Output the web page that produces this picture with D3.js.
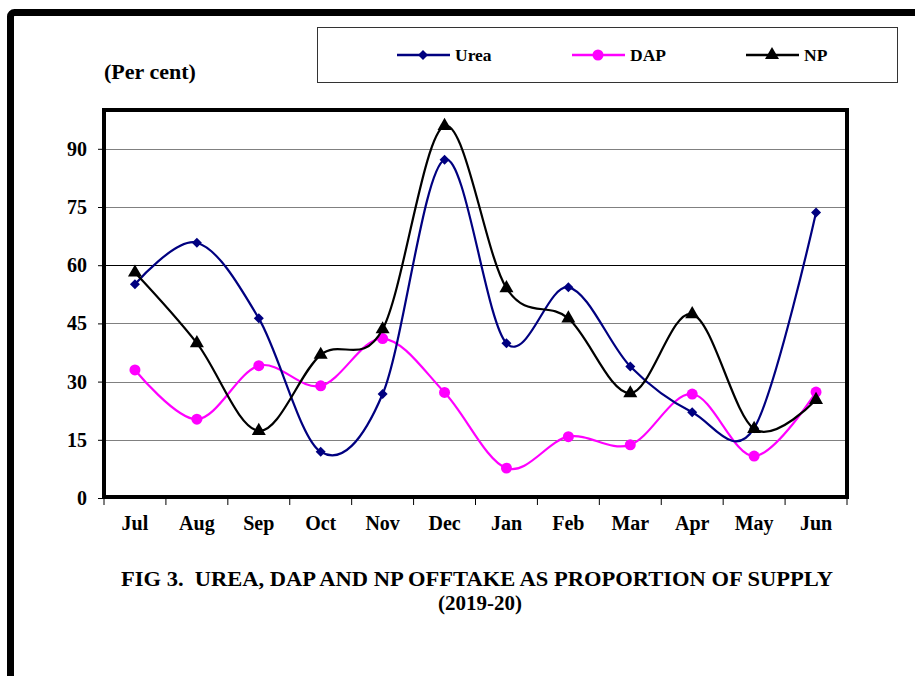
<!DOCTYPE html>
<html><head><meta charset="utf-8">
<script src="https://cdn.jsdelivr.net/npm/d3@7"></script>
<style>
body{margin:0;background:#fff;}
svg text{font-family:"Liberation Serif","Times New Roman","DejaVu Serif",serif !important;font-weight:bold;fill:#000;}
</style></head>
<body><svg id="c" width="915" height="676"></svg>
<script>
const months = ["Jul","Aug","Sep","Oct","Nov","Dec","Jan","Feb","Mar","Apr","May","Jun"];
const urea = [55.1,65.8,46.3,11.9,26.8,87.2,39.9,54.3,33.9,22.1,18.0,73.6];
const dap  = [33.0,20.3,34.1,28.9,41.1,27.2,7.7,15.8,13.7,26.8,10.8,27.3];
const np   = [58.1,39.9,17.3,36.9,43.5,95.9,54.1,46.3,27.0,47.4,17.8,25.3];
const yTicks = [0,15,30,45,60,75,90];
const seriesNames = ["Urea","DAP","NP"];
const FONT = "'Liberation Serif','Times New Roman','DejaVu Serif',serif";

const svg = d3.select("#c");
// outer frame
svg.append("rect").attr("x",10.5).attr("y",12.5).attr("width",960).attr("height",720)
  .attr("rx",4).attr("fill","none").attr("stroke","#000").attr("stroke-width",7);

const L=104,R=847,T=110,B=498;
const x = d3.scaleBand().domain(months).range([L,R]);
const y = d3.scaleLinear().domain([0,100]).range([B,T]);

// gridlines
svg.append("g").selectAll("line").data(yTicks.filter(d=>d>0)).join("line")
  .attr("x1",L).attr("x2",R).attr("y1",d=>Math.round(y(d))+0.5).attr("y2",d=>Math.round(y(d))+0.5)
  .attr("stroke",d=>d===60?"#000":"#808080").attr("stroke-width",1);

// y axis
const ya = svg.append("g").attr("transform",`translate(${L},0)`)
  .call(d3.axisLeft(y).tickValues(yTicks).tickSize(6).tickPadding(11));
ya.attr("font-family",FONT);
ya.select(".domain").remove();
ya.selectAll("text").attr("font-family",FONT).style("font-size","20px").style("font-weight","bold");
ya.selectAll("line").attr("stroke","#000");

// x axis ticks at band boundaries
const bounds = months.map(m=>x(m)).concat([R]);
svg.append("g").selectAll("line").data(bounds).join("line")
  .attr("x1",d=>d).attr("x2",d=>d).attr("y1",B).attr("y2",B+7).attr("stroke","#000");
svg.append("g").selectAll("text").data(months).join("text")
  .attr("x",d=>x(d)+x.bandwidth()/2).attr("y",530).attr("text-anchor","middle")
  .attr("font-family",FONT).style("font-size","20px").text(d=>d);

// plot frame
svg.append("rect").attr("x",L).attr("y",T).attr("width",R-L).attr("height",B-T-1)
  .attr("fill","none").attr("stroke","#000").attr("stroke-width",4);

const line = d3.line().x((d,i)=>x(months[i])+x.bandwidth()/2).y(d=>y(d)).curve(d3.curveCardinal.tension(0));
const cfg = [
  {data:urea,color:"#000080",shape:d3.symbolSquare,size:50,rot:45},
  {data:dap,color:"#FF00FF",shape:d3.symbolCircle,size:95,rot:0},
  {data:np,color:"#000000",shape:d3.symbolTriangle,size:85,rot:0}
];
// draw order: DAP, Urea, NP
[1,0,2].forEach(k=>{
  const c=cfg[k];
  svg.append("path").datum(c.data).attr("d",line).attr("fill","none").attr("stroke",c.color).attr("stroke-width",2.2);
  svg.append("g").selectAll("path").data(c.data).join("path")
    .attr("d",d3.symbol().type(c.shape).size(c.size))
    .attr("transform",(d,i)=>`translate(${x(months[i])+x.bandwidth()/2},${y(d)}) rotate(${c.rot})`)
    .attr("fill",c.color);
});

// legend
svg.append("rect").attr("x",317.5).attr("y",27.5).attr("width",580).attr("height",55)
  .attr("fill","#fff").attr("stroke","#333").attr("stroke-width",1);
const lx=[397,572,746];
cfg.forEach((c,i)=>{
  svg.append("line").attr("x1",lx[i]).attr("x2",lx[i]+53).attr("y1",55).attr("y2",55).attr("stroke",c.color).attr("stroke-width",2.5);
  svg.append("path").attr("d",d3.symbol().type(c.shape).size(c.size)).attr("transform",`translate(${lx[i]+26},55) rotate(${c.rot})`).attr("fill",c.color);
  svg.append("text").attr("x",lx[i]+58).attr("y",61).attr("font-family",FONT).style("font-size","17.5px").text(seriesNames[i]);
});

svg.append("text").attr("x",104).attr("y",79).attr("font-family",FONT).style("font-size","22px").text("(Per cent)");

svg.append("text").attr("x",477).attr("y",586).attr("text-anchor","middle").attr("font-family",FONT).style("font-size","21px")
  .attr("textLength",712).attr("lengthAdjust","spacingAndGlyphs")
  .attr("xml:space","preserve").style("white-space","pre").text("FIG 3.  UREA, DAP AND NP OFFTAKE AS PROPORTION OF SUPPLY");
svg.append("text").attr("x",480).attr("y",610).attr("text-anchor","middle").attr("font-family",FONT).style("font-size","21px").text("(2019-20)");
</script></body></html>
